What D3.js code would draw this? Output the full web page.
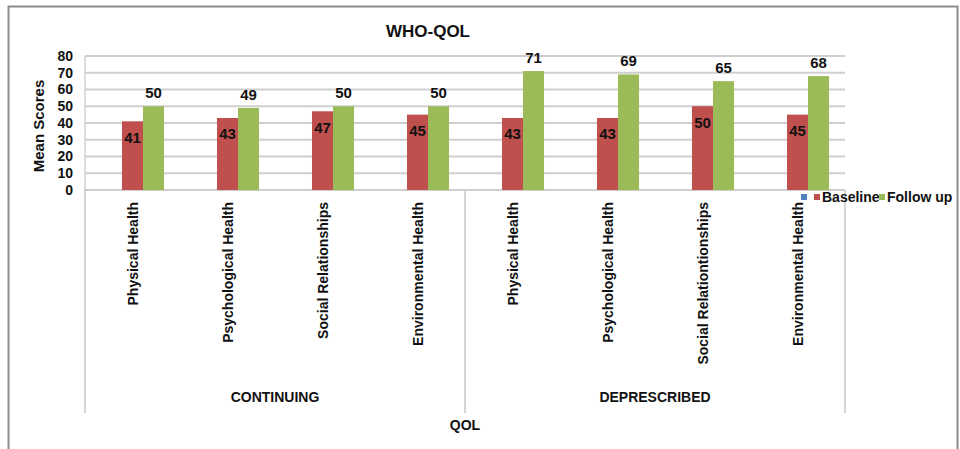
<!DOCTYPE html>
<html>
<head>
<meta charset="utf-8">
<script src="https://cdnjs.cloudflare.com/ajax/libs/d3/7.8.5/d3.min.js"></script>
<style>
  body { margin: 0; background: #fff; }
  text { font-family: "Liberation Sans", Arial, sans-serif; font-weight: bold; fill: #111; }
</style>
</head>
<body>
<div id="chart"></div>
<script>
// chart data
var categories = ["Physical Health", "Psychological Health", "Social Relationships", "Environmental Health",
                  "Physical Health", "Psychological Health", "Social Relationtionships", "Environmental Health"];
var groups = ["CONTINUING", "DEPRESCRIBED"];
var seriesNames = ["", "Baseline", "Follow up"];
var seriesColors = ["#4F81BD", "#C0504D", "#9BBB59"];
var emptySeries = [null, null, null, null, null, null, null, null];
var baseline = [41, 43, 47, 45, 43, 43, 50, 45];
var followUp = [50, 49, 50, 50, 71, 69, 65, 68];
var yTicks = [0, 10, 20, 30, 40, 50, 60, 70, 80];

var width = 960, height = 449;
var plot = {left: 85, right: 845, top: 56, bottom: 190};

var svg = d3.select("#chart").append("svg")
    .attr("width", width)
    .attr("height", height);

// outer frame
svg.append("path")
    .attr("d", "M8.5,449 L8.5,6.5 L957.5,6.5 L957.5,449")
    .style("fill", "none")
    .style("stroke", "#8c8c8c")
    .style("stroke-width", 2);

var keys = categories.map(function(d, i) { return i; });

var x0 = d3.scaleBand()
    .domain(keys)
    .range([plot.left, plot.right]);

var x1 = d3.scaleBand()
    .domain(seriesNames)
    .range([0, x0.bandwidth()])
    .paddingOuter(0.76);

var y = d3.scaleLinear()
    .domain([0, 80])
    .range([plot.bottom, plot.top]);

// gridlines
svg.append("g")
    .selectAll("line")
    .data(yTicks)
    .enter()
    .append("line")
    .attr("x1", plot.left)
    .attr("x2", plot.right)
    .attr("y1", function(d) { return y(d); })
    .attr("y2", function(d) { return y(d); })
    .style("stroke", "#cfcfcf")
    .style("stroke-width", 2);

// left plot border
svg.append("line")
    .attr("x1", plot.left).attr("x2", plot.left)
    .attr("y1", plot.top).attr("y2", plot.bottom)
    .style("stroke", "#d0d0d0")
    .style("stroke-width", 1.5);

// y axis tick labels
var yAxis = d3.axisLeft(y).tickValues(yTicks).tickSize(0).tickPadding(12);
var gy = svg.append("g")
    .attr("transform", "translate(" + plot.left + ",0)")
    .call(yAxis);
gy.select(".domain").remove();
gy.selectAll("text")
    .style("font-size", "14px")
    .style("font-family", "'Liberation Sans', Arial, sans-serif")
    .style("font-weight", "bold")
    .style("fill", "#111");

// bars
var seriesData = [emptySeries, baseline, followUp];
seriesData.forEach(function(vals, s) {
    svg.append("g")
        .selectAll("rect")
        .data(vals.map(function(v, i) { return {i: i, v: v}; }).filter(function(d) { return d.v !== null; }))
        .enter()
        .append("rect")
        .attr("x", function(d) { return x0(d.i) + x1(seriesNames[s]); })
        .attr("width", x1.bandwidth())
        .attr("y", function(d) { return y(d.v); })
        .attr("height", function(d) { return y(0) - y(d.v); })
        .style("fill", seriesColors[s]);
});

// baseline labels inside bars
svg.append("g")
    .selectAll("text")
    .data(baseline)
    .enter()
    .append("text")
    .attr("x", function(d, i) { return x0(i) + x1("Baseline") + x1.bandwidth() / 2; })
    .attr("y", function(d) { return y(d) + 21.5; })
    .attr("text-anchor", "middle")
    .style("font-size", "15px")
    .text(function(d) { return d; });

// follow up labels above bars
svg.append("g")
    .selectAll("text")
    .data(followUp)
    .enter()
    .append("text")
    .attr("x", function(d, i) { return x0(i) + x1("Follow up") + x1.bandwidth() / 2; })
    .attr("y", function(d) { return y(d) - 8; })
    .attr("text-anchor", "middle")
    .style("font-size", "15px")
    .text(function(d) { return d; });

// group separators
var sepX = [plot.left, (plot.left + plot.right) / 2, plot.right];
svg.append("g")
    .selectAll("line")
    .data(sepX)
    .enter()
    .append("line")
    .attr("x1", function(d) { return d; })
    .attr("x2", function(d) { return d; })
    .attr("y1", plot.bottom)
    .attr("y2", 413)
    .style("stroke", "#c8c8c8")
    .style("stroke-width", 1.5);

// category labels
svg.append("g")
    .selectAll("text")
    .data(categories)
    .enter()
    .append("text")
    .attr("transform", function(d, i) {
        return "translate(" + (x0(i) + x0.bandwidth() / 2 + 5) + ",202) rotate(-90)";
    })
    .attr("text-anchor", "end")
    .style("font-size", "14px")
    .text(function(d) { return d; });

// group labels
svg.append("g")
    .selectAll("text")
    .data(groups)
    .enter()
    .append("text")
    .attr("x", function(d, i) { return (x0(i * 4) + x0(i * 4 + 3) + x0.bandwidth()) / 2; })
    .attr("y", 402)
    .attr("text-anchor", "middle")
    .style("font-size", "14px")
    .text(function(d) { return d; });

// x axis title
svg.append("text")
    .attr("x", (plot.left + plot.right) / 2)
    .attr("y", 430)
    .attr("text-anchor", "middle")
    .style("font-size", "14px")
    .text("QOL");

// y axis title
svg.append("text")
    .attr("transform", "translate(44,126) rotate(-90)")
    .attr("text-anchor", "middle")
    .style("font-size", "15px")
    .text("Mean Scores");

// chart title
svg.append("text")
    .attr("x", 428)
    .attr("y", 37)
    .attr("text-anchor", "middle")
    .style("font-size", "17px")
    .text("WHO-QOL");

// legend
var legend = svg.append("g").attr("transform", "translate(801,197)");
var legendX = [0, 13, 78];
seriesNames.forEach(function(name, i) {
    var item = legend.append("g").attr("transform", "translate(" + legendX[i] + ",0)");
    item.append("rect")
        .attr("x", 0).attr("y", -3)
        .attr("width", 6).attr("height", 6)
        .style("fill", seriesColors[i]);
    item.append("text")
        .attr("x", 8)
        .attr("y", 5)
        .style("font-size", "14px")
        .text(name);
});
</script>
</body>
</html>
